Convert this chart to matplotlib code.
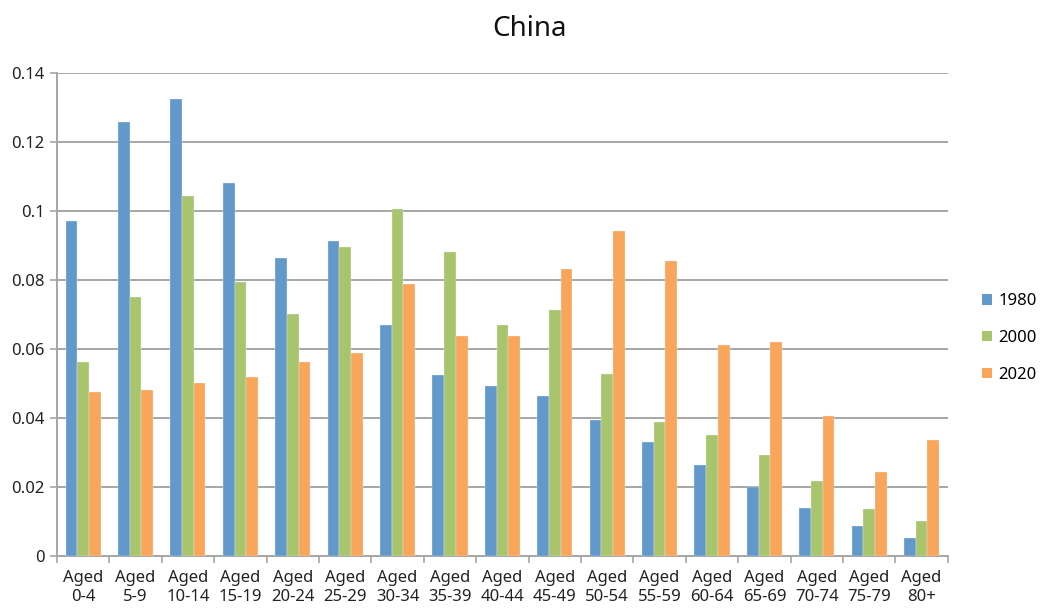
import matplotlib
matplotlib.use("Agg")
import matplotlib.pyplot as plt
import numpy as np
from matplotlib.patches import Patch

plt.rcParams['font.family'] = ['Noto Sans', 'DejaVu Sans']

categories = ["Aged\n0-4", "Aged\n5-9", "Aged\n10-14", "Aged\n15-19", "Aged\n20-24", "Aged\n25-29",
              "Aged\n30-34", "Aged\n35-39", "Aged\n40-44", "Aged\n45-49", "Aged\n50-54", "Aged\n55-59",
              "Aged\n60-64", "Aged\n65-69", "Aged\n70-74", "Aged\n75-79", "Aged\n80+"]
s1980 = [0.0971, 0.1258, 0.1325, 0.1081, 0.0864, 0.0913, 0.0670, 0.0525, 0.0493, 0.0464,
         0.0394, 0.0330, 0.0264, 0.0200, 0.0139, 0.0087, 0.0052]
s2000 = [0.0562, 0.0751, 0.1043, 0.0794, 0.0701, 0.0896, 0.1006, 0.0881, 0.0670, 0.0713,
         0.0528, 0.0388, 0.0351, 0.0293, 0.0217, 0.0136, 0.0101]
s2020 = [0.0475, 0.0481, 0.0501, 0.0519, 0.0562, 0.0588, 0.0788, 0.0638, 0.0638, 0.0832,
         0.0942, 0.0855, 0.0612, 0.0620, 0.0406, 0.0243, 0.0336]
series_names = ["1980", "2000", "2020"]
colors = ["#6398CB", "#A8C46C", "#F9A65A"]

fig = plt.figure(figsize=(10.45, 6.09), dpi=100)
ax = fig.add_axes([0.0545, 0.087, 0.8525, 0.793])

x = np.arange(len(categories))
w = 0.223
for i, (vals, c) in enumerate(zip([s1980, s2000, s2020], colors)):
    ax.bar(x + (i - 1) * w, vals, width=w, color=c, edgecolor='#E8EEF6', linewidth=0.25, zorder=3)

ax.set_xlim(-0.5, len(categories) - 0.5)
ax.set_ylim(0, 0.14)
yt = [0, 0.02, 0.04, 0.06, 0.08, 0.1, 0.12, 0.14]
ax.set_yticks(yt)
ax.set_yticklabels(["0", "0.02", "0.04", "0.06", "0.08", "0.1", "0.12", "0.14"], fontsize=12, color='#222222')
ax.yaxis.grid(True, color='#A6A6A6', linewidth=1.4, zorder=0)
ax.set_axisbelow(True)

ax.set_xticks(x)
ax.set_xticklabels(categories, fontsize=12, color='#222222', linespacing=1.25)
ax.tick_params(axis='x', length=0, pad=10)
ax.set_xticks(np.arange(-0.5, len(categories), 1), minor=True)
ax.tick_params(axis='x', which='minor', length=5, color='#A6A6A6', width=1.2)
ax.tick_params(axis='y', length=5, color='#A6A6A6', width=1.2, pad=4)

for s in ['top', 'right']:
    ax.spines[s].set_visible(False)
for s in ['left', 'bottom']:
    ax.spines[s].set_color('#A6A6A6')
    ax.spines[s].set_linewidth(1.4)

fig.text(0.507, 0.952, "China", ha='center', va='center', fontsize=20, color='#111111')

handles = [Patch(facecolor=c, edgecolor='none') for c in colors]
leg = fig.legend(handles, series_names, loc='center left', bbox_to_anchor=(0.925, 0.445),
                 frameon=False, fontsize=12, handlelength=0.6, handleheight=0.6,
                 handletextpad=0.4, labelspacing=1.25)

fig.savefig("out.png", dpi=100)
